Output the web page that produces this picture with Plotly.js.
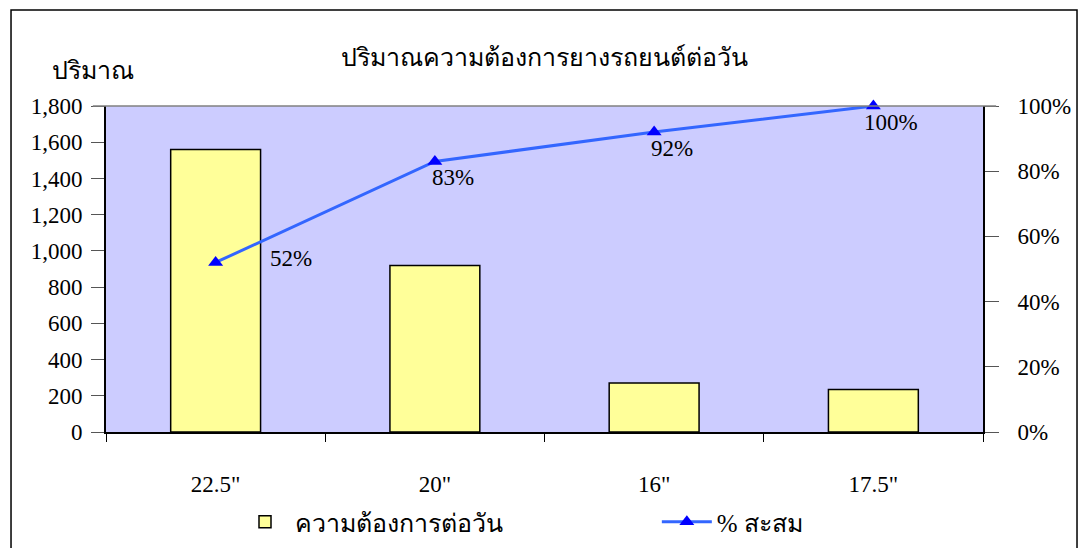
<!DOCTYPE html>
<html>
<head>
<meta charset="utf-8">
<script src="https://cdn.plot.ly/plotly-3.0.1.min.js"></script>
<style>
html,body{margin:0;padding:0;background:#fff;}
#chart{width:1079px;height:548px;}
</style>
</head>
<body>
<div id="chart"></div>
<script>
const categories = ['22.5"', '20"', '16"', '17.5"'];
const demand = [1560, 920, 270, 235];
const cumPct = [52, 83, 92, 100];
const pctLabels = ['52%', '83%', '92%', '100%'];
const yTicks = [0, 200, 400, 600, 800, 1000, 1200, 1400, 1600, 1800];
const y2Ticks = [0, 20, 40, 60, 80, 100];
const y2TickText = ['0%', '20%', '40%', '60%', '80%', '100%'];

const chartTitle = 'ปริมาณความต้องการยางรถยนต์ต่อวัน';
const yLabel = 'ปริมาณ';
const barName = 'ความต้องการต่อวัน';
const lineName = '% สะสม';

const FONT = '"Liberation Serif", "Times New Roman", serif';
const NUM = 23;
const THAI = 25;

const traces = [
  {
    type: 'bar', x: categories, y: demand, name: barName,
    marker: {color: '#FFFF99', line: {color: '#000000', width: 1.5}},
    hoverinfo: 'x+y'
  },
  {
    type: 'scatter', mode: 'lines+markers', x: categories, y: cumPct, yaxis: 'y2',
    name: lineName, cliponaxis: false,
    line: {color: '#3366FF', width: 3},
    marker: {symbol: 'triangle-up', size: 13, color: '#0000FF'}
  }
];

const annotations = [
  {text: yLabel, xref: 'paper', yref: 'paper', x: -0.015, y: 1.11, showarrow: false,
   font: {family: FONT, size: THAI, color: '#000'}, xanchor: 'center', yanchor: 'middle'}
];
cumPct.forEach((v, i) => {
  const first = i === 0;
  annotations.push({
    text: pctLabels[i], x: categories[i], y: v, xref: 'x', yref: 'y2', showarrow: false,
    font: {family: FONT, size: NUM, color: '#000'},
    xanchor: first ? 'left' : 'center', yanchor: 'middle',
    xshift: first ? 52 : 18, yshift: first ? 4 : -16
  });
});

const layout = {
  width: 1079, height: 548,
  margin: {l: 106, r: 96, t: 106, b: 116},
  paper_bgcolor: '#FFFFFF',
  plot_bgcolor: '#CCCCFF',
  font: {family: FONT, size: NUM, color: '#000'},
  title: {text: chartTitle, x: 0.5, xref: 'paper', xanchor: 'center', y: 0.896, yanchor: 'middle',
          font: {family: FONT, size: THAI, color: '#000'}},
  showlegend: true,
  legend: {orientation: 'h', x: 0.1494, xanchor: 'left', xref: 'paper',
           y: 0.0894, yanchor: 'top', yref: 'container',
           font: {family: FONT, size: THAI, color: '#000'}, bgcolor: 'rgba(0,0,0,0)',
           itemwidth: 50, entrywidth: 0.481, entrywidthmode: 'fraction', traceorder: 'normal'},
  bargap: 0.59,
  xaxis: {
    type: 'category', tickson: 'boundaries', ticks: 'outside', ticklen: 8, tickcolor: '#000',
    showline: true, linecolor: '#000', linewidth: 2, showgrid: false, zeroline: false,
    ticklabelstandoff: 30, tickfont: {family: FONT, size: NUM}
  },
  yaxis: {
    range: [0, 1800], tickvals: yTicks, tickformat: ',d', ticks: 'outside', ticklen: 13,
    tickcolor: '#555', showline: true, linecolor: '#000', linewidth: 2, showgrid: false,
    zeroline: false, tickfont: {family: FONT, size: NUM}, ticklabelstandoff: 4
  },
  yaxis2: {
    overlaying: 'y', side: 'right', range: [0, 100], tickvals: y2Ticks, ticktext: y2TickText,
    tickmode: 'array',
    ticks: 'outside', ticklen: 14, tickcolor: '#555', showline: true, linecolor: '#000',
    linewidth: 2, showgrid: false, zeroline: false, tickfont: {family: FONT, size: NUM},
    ticklabelstandoff: 14
  },
  yaxis3: {
    overlaying: 'y', side: 'right', anchor: 'x', range: [0, 100], tickvals: y2Ticks,
    tickmode: 'array', ticks: 'inside', ticklen: 12, tickcolor: '#555',
    showticklabels: false, showline: false, showgrid: false, zeroline: false
  },
  shapes: [
    {type: 'line', xref: 'paper', yref: 'paper', x0: -0.015, x1: 1.015, y0: 1, y1: 1,
     line: {color: '#808080', width: 1.5}},
    {type: 'rect', xref: 'paper', yref: 'paper', x0: -0.1083, x1: 1.1072, y0: -0.45, y1: 1.2945,
     line: {color: '#000', width: 1.5}, fillcolor: 'rgba(0,0,0,0)', layer: 'above'}
  ],
  annotations: annotations
};

Plotly.newPlot('chart', traces, layout, {displayModeBar: false, responsive: false});
</script>
</body>
</html>
